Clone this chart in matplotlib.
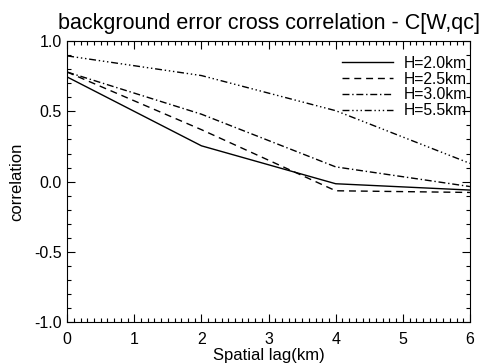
import matplotlib
matplotlib.use("Agg")
import matplotlib.pyplot as plt
from matplotlib.ticker import MultipleLocator

plt.rcParams['font.family'] = ['Liberation Sans', 'DejaVu Sans']

lags = [0, 2, 4, 6]
h20 = [0.745, 0.255, -0.015, -0.06]
h25 = [0.78, 0.37, -0.065, -0.077]
h30 = [0.78, 0.48, 0.105, -0.035]
h55 = [0.895, 0.755, 0.505, 0.13]
labels = ['H=2.0km', 'H=2.5km', 'H=3.0km', 'H=5.5km']

fig = plt.figure(figsize=(4.83, 3.64), dpi=100)
ax = fig.add_axes([0.139, 0.115, 0.834, 0.772])

styles = ['-', (0, (5, 3.5)), (0, (5, 2, 1, 2)), (0, (5, 2, 1, 2, 1, 2, 1, 2))]
for ys, ls, lab in zip([h20, h25, h30, h55], styles, labels):
    ax.plot(lags, ys, color='black', lw=1.0, linestyle=ls, label=lab)

ax.set_xlim(0, 6)
ax.set_ylim(-1, 1)
ax.xaxis.set_major_locator(MultipleLocator(1))
ax.xaxis.set_minor_locator(MultipleLocator(0.1))
ax.yaxis.set_major_locator(MultipleLocator(0.5))
ax.yaxis.set_minor_locator(MultipleLocator(0.1))
ax.tick_params(which='both', direction='in', top=True, right=True, labelsize=11.5, width=0.8)
ax.tick_params(which='major', length=6)
ax.tick_params(which='minor', length=3)
ax.tick_params(axis='x', which='major', pad=7)
ax.tick_params(axis='y', which='major', pad=4)
ax.set_yticks([-1, -0.5, 0, 0.5, 1])
ax.set_yticklabels(['-1.0', '-0.5', '0.0', '0.5', '1.0'])
for s in ax.spines.values():
    s.set_linewidth(0.8)

ax.set_xlabel('Spatial lag(km)', fontsize=12, labelpad=1)
ax.set_ylabel('correlation', fontsize=12, labelpad=7)
ax.set_title('background error cross correlation - C[W,qc]', fontsize=15.5, pad=9)

leg = ax.legend(loc='upper right', frameon=False, fontsize=11.3, handlelength=3.3,
                handletextpad=0.65, labelspacing=0.05, borderaxespad=0.0,
                bbox_to_anchor=(1.008, 0.97))

fig.savefig('out.png', dpi=100)
